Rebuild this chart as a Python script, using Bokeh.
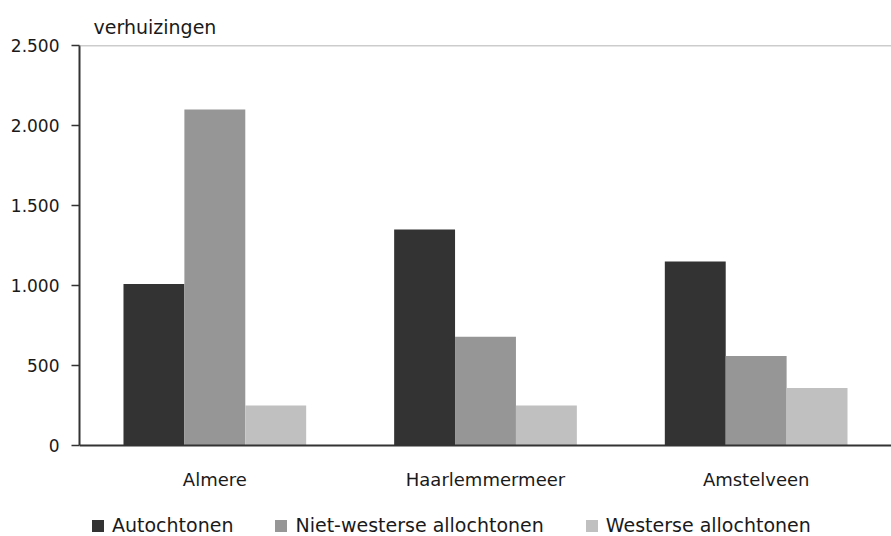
from bokeh.plotting import figure
from bokeh.models import ColumnDataSource, FactorRange, Range1d, Span, Legend, LegendItem, FixedTicker, Title
from bokeh.transform import dodge
from bokeh.embed import file_html
from bokeh.resources import INLINE

cities = ["Almere", "Haarlemmermeer", "Amstelveen"]
series = ["Autochtonen", "Niet-westerse allochtonen", "Westerse allochtonen"]
autochtonen = [1010, 1350, 1150]
niet_westers = [2100, 680, 560]
westers = [250, 250, 360]
y_ticks = [0, 500, 1000, 1500, 2000, 2500]
y_tick_labels = ["0", "500", "1.000", "1.500", "2.000", "2.500"]
colors = ["#333333", "#969696", "#c0c0c0"]

FONT = "DejaVu Sans"
TXT = "#1a1a1a"

src = ColumnDataSource(dict(city=cities, a=autochtonen, n=niet_westers, w=westers))

# frame extends below the zero line to host the category labels and legend
p = figure(x_range=FactorRange(*cities, range_padding=0), y_range=Range1d(-600, 2500),
           frame_width=812, frame_height=496, output_backend="svg", toolbar_location=None,
           min_border_left=79, min_border_right=0, min_border_top=45, min_border_bottom=0)

bw = 0.225
r1 = p.vbar(x=dodge("city", -bw, range=p.x_range), top="a", width=bw, source=src,
            fill_color=colors[0], line_color=None)
r2 = p.vbar(x=dodge("city", 0, range=p.x_range), top="n", width=bw, source=src,
            fill_color=colors[1], line_color=None)
r3 = p.vbar(x=dodge("city", bw, range=p.x_range), top="w", width=bw, source=src,
            fill_color=colors[2], line_color=None)

p.add_layout(Span(location=2500, dimension="width", line_color="#9a9a9a", line_width=1.5))

p.outline_line_color = None
p.xgrid.grid_line_color = None
p.ygrid.grid_line_color = None

p.yaxis.ticker = FixedTicker(ticks=y_ticks)
p.yaxis.bounds = (0, 2500)
p.yaxis.major_label_overrides = {t: l for t, l in zip(y_ticks, y_tick_labels)}
p.yaxis.axis_line_color = "#333333"
p.yaxis.axis_line_width = 2
p.yaxis.major_tick_line_color = "#333333"
p.yaxis.major_tick_line_width = 1.5
p.yaxis.major_tick_out = 8
p.yaxis.major_tick_in = 0
p.yaxis.minor_tick_line_color = None
p.yaxis.major_label_standoff = 12
p.yaxis.major_label_text_font = FONT
p.yaxis.major_label_text_font_size = "17px"
p.yaxis.major_label_text_color = TXT

p.xaxis.fixed_location = 0
p.xaxis.axis_line_color = "#333333"
p.xaxis.axis_line_width = 2
p.xaxis.major_tick_line_color = None
p.xaxis.minor_tick_line_color = None
p.xaxis.major_label_standoff = 17
p.xaxis.major_label_text_font = FONT
p.xaxis.major_label_text_font_size = "18px"
p.xaxis.major_label_text_color = TXT

t = Title(text="verhuizingen", align="left", offset=14, text_font=FONT,
          text_font_size="19px", text_font_style="normal", text_color=TXT, standoff=16)
p.add_layout(t, "above")

legend = Legend(items=[LegendItem(label=series[0], renderers=[r1]),
                       LegendItem(label=series[1], renderers=[r2]),
                       LegendItem(label=series[2], renderers=[r3])],
                orientation="horizontal", location=(11, 5), padding=0, margin=0,
                spacing=40, glyph_width=15, glyph_height=15, label_standoff=7,
                border_line_color=None, background_fill_alpha=0,
                label_text_font=FONT, label_text_font_size="19px", label_text_color=TXT)
p.add_layout(legend, "center")

open("out.html", "w").write(file_html(p, INLINE))
